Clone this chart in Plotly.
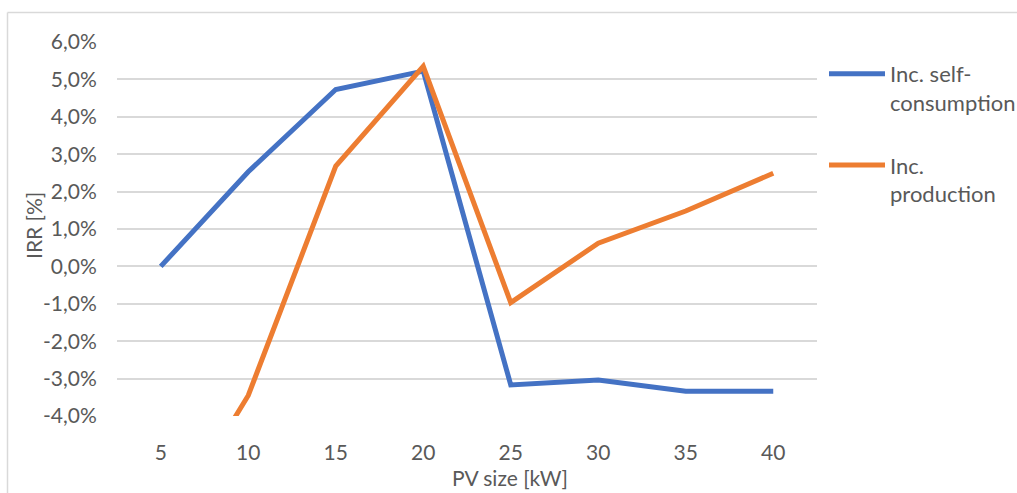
import plotly.graph_objects as go

# PV system sizes (kW) on the category axis
pv_size = ["5", "10", "15", "20", "25", "30", "35", "40"]

# Internal rate of return (%) for each incentive scheme
irr_self_consumption = [0.0, 2.53, 4.73, 5.22, -3.17, -3.04, -3.34, -3.34]
irr_production = [-7.3, -3.45, 2.68, 5.35, -0.97, 0.62, 1.48, 2.49]

series_names = ["Inc. self-<br>consumption", "Inc.<br>production"]
series_colors = ["#4472C4", "#ED7D31"]

y_tick_vals = [-4, -3, -2, -1, 0, 1, 2, 3, 4, 5, 6]
y_tick_text = ["-4,0%", "-3,0%", "-2,0%", "-1,0%", "0,0%", "1,0%",
               "2,0%", "3,0%", "4,0%", "5,0%", "6,0%"]

W, H = 1017, 493
L, R, T, B = 117, 200, 42, 77
FONT = "Lato"
GREY = "#595959"

fig = go.Figure()
for i, (name, vals, col) in enumerate(
        zip(series_names, [irr_self_consumption, irr_production], series_colors)):
    fig.add_trace(go.Scatter(
        x=pv_size, y=vals, name=name, mode="lines",
        line=dict(color=col, width=5), legendgroup=f"g{i}",
    ))

pw, ph = W - L - R, H - T - B


def px_x(px):
    return (px - L) / pw


def px_y(py):
    return (H - B - py) / ph


border = dict(color="#D9D9D9", width=1.5)
fig.add_shape(type="line", xref="paper", yref="paper",
              x0=px_x(7.5), x1=px_x(W + 5), y0=px_y(12.5), y1=px_y(12.5), line=border)
fig.add_shape(type="line", xref="paper", yref="paper",
              x0=px_x(7.5), x1=px_x(7.5), y0=px_y(12.5), y1=px_y(H + 5), line=border)

fig.add_annotation(text="PV size [kW]", xref="paper", yref="paper",
                   x=px_x(510), y=px_y(477), showarrow=False,
                   xanchor="center", yanchor="middle",
                   font=dict(family=FONT, size=21, color=GREY))
fig.add_annotation(text="IRR [%]", xref="paper", yref="paper",
                   x=px_x(33), y=px_y(226), showarrow=False, textangle=-90,
                   xanchor="center", yanchor="middle",
                   font=dict(family=FONT, size=21, color=GREY))

fig.update_layout(
    width=W, height=H,
    margin=dict(l=L, r=R, t=T, b=B, autoexpand=False),
    plot_bgcolor="white", paper_bgcolor="white",
    font=dict(family=FONT, size=21, color=GREY),
    showlegend=True,
    legend=dict(x=px_x(824), y=px_y(53), xanchor="left", yanchor="top",
                valign="top", tracegroupgap=31, itemwidth=56,
                font=dict(family=FONT, size=22, color=GREY),
                bgcolor="rgba(0,0,0,0)"),
    xaxis=dict(type="category", range=[-0.5, 7.5], showgrid=False,
               showline=False, zeroline=False, ticks="outside", ticklen=18,
               tickcolor="rgba(0,0,0,0)", tickfont=dict(size=21, color=GREY)),
    yaxis=dict(range=[-4, 6], tickvals=y_tick_vals, ticktext=y_tick_text,
               showgrid=True, gridcolor="#D9D9D9", gridwidth=1.5,
               zeroline=False, showline=False, ticks="outside", ticklen=15,
               tickcolor="rgba(0,0,0,0)", tickfont=dict(size=21, color=GREY)),
)

fig.write_html("out.html")
